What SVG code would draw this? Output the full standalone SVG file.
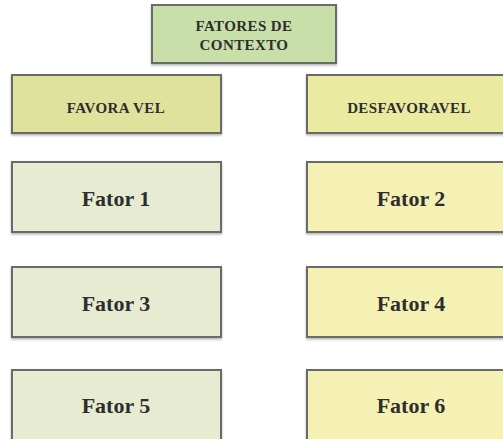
<svg xmlns="http://www.w3.org/2000/svg" width="503" height="439" viewBox="0 0 503 439">
<style>
.box{stroke:#6a6a6a;stroke-width:2}
.t{font-family:"Liberation Serif","DejaVu Serif",serif;font-weight:bold;fill:#2e2e2e;text-anchor:middle}
.s{font-size:15px;letter-spacing:0.4px}
.f{font-size:22px}
</style>
<defs>
<filter id="sh" x="-5%" y="-5%" width="110%" height="115%">
<feDropShadow dx="0" dy="1.5" stdDeviation="0.8" flood-color="#000" flood-opacity="0.3"/>
</filter>
</defs>
<rect width="503" height="439" fill="#ffffff"/>
<g id="contexto">
<rect class="box" x="152" y="5" width="184" height="58" fill="#c9dfa9" filter="url(#sh)"/>
<text class="t s" x="244" y="31">FATORES DE</text>
<text class="t s" x="244" y="50">CONTEXTO</text>
</g>
<g id="favoravel">
<rect class="box" x="12" y="75" width="209" height="58" fill="#dfe29c" filter="url(#sh)"/>
<text class="t s" x="116" y="113">FAVORA VEL</text>
</g>
<g id="desfavoravel">
<rect class="box" x="307" y="75" width="210" height="58" fill="#ebeaa1" filter="url(#sh)"/>
<text class="t s" x="409" y="113">DESFAVORAVEL</text>
</g>
<g id="fator1">
<rect class="box" x="12" y="162" width="209" height="70" fill="#e6ebd2" filter="url(#sh)"/>
<text class="t f" x="116" y="206">Fator 1</text>
</g>
<g id="fator2">
<rect class="box" x="307" y="162" width="210" height="70" fill="#f5f0b4" filter="url(#sh)"/>
<text class="t f" x="411" y="206">Fator 2</text>
</g>
<g id="fator3">
<rect class="box" x="12" y="267" width="209" height="70" fill="#e6ebd2" filter="url(#sh)"/>
<text class="t f" x="116" y="311">Fator 3</text>
</g>
<g id="fator4">
<rect class="box" x="307" y="267" width="210" height="70" fill="#f5f0b4" filter="url(#sh)"/>
<text class="t f" x="411" y="311">Fator 4</text>
</g>
<g id="fator5">
<rect class="box" x="12" y="370" width="209" height="80" fill="#e6ebd2" filter="url(#sh)"/>
<text class="t f" x="116" y="413">Fator 5</text>
</g>
<g id="fator6">
<rect class="box" x="307" y="370" width="210" height="80" fill="#f5f0b4" filter="url(#sh)"/>
<text class="t f" x="411" y="413">Fator 6</text>
</g>
<g id="connectors"></g>
</svg>
